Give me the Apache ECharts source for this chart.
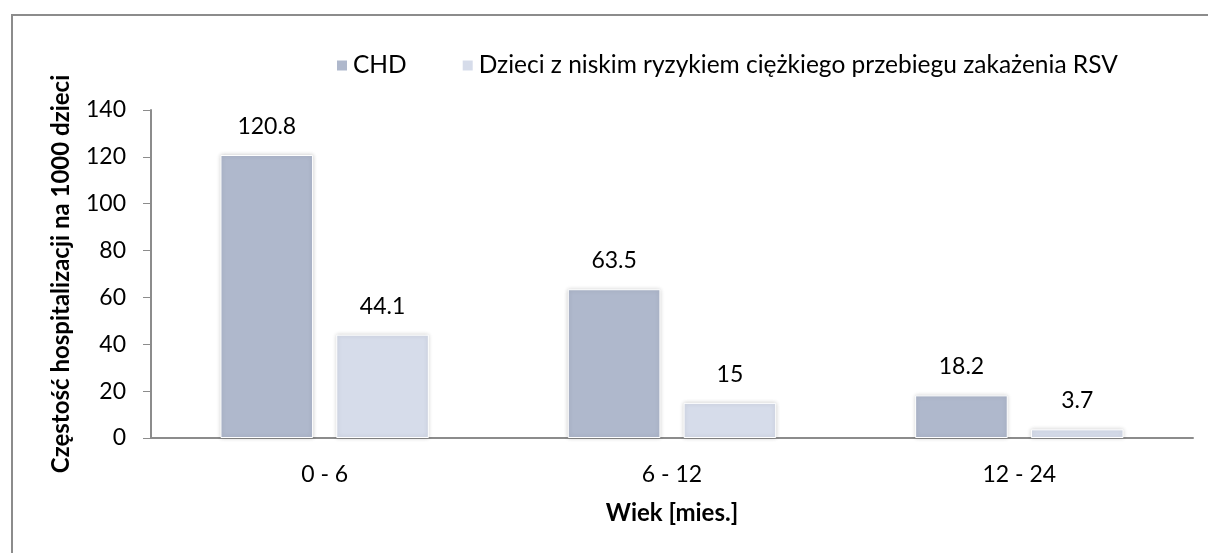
<!DOCTYPE html>
<html>
<head>
<meta charset="utf-8">
<script src="https://cdn.jsdelivr.net/npm/echarts@6/dist/echarts.min.js"></script>
<style>html,body{margin:0;padding:0;background:#fff}#c{width:1208px;height:553px}</style>
</head>
<body>
<div id="c"></div>
<script>
const categories = ['0 - 6', '6 - 12', '12 - 24'];
const seriesNames = ['CHD', 'Dzieci z niskim ryzykiem ciężkiego przebiegu zakażenia RSV'];
const chdValues = [120.8, 63.5, 18.2];
const lowRiskValues = [44.1, 15, 3.7];
const yAxisTitle = 'Częstość hospitalizacji na 1000 dzieci';
const xAxisTitle = 'Wiek [mies.]';

const FONT = 'Lato, "Liberation Sans", sans-serif';
const FS = 23;
const chart = echarts.init(document.getElementById('c'));
const barStyle = (color) => ({
  color: color,
  borderColor: '#ffffff',
  borderWidth: 1,
  shadowColor: 'rgba(0,0,0,0.18)',
  shadowBlur: 4
});
const labelStyle = { show: true, position: 'top', distance: 17, fontSize: FS, color: '#000', fontFamily: FONT };
chart.setOption({
  animation: false,
  backgroundColor: '#fff',
  textStyle: { fontFamily: FONT },
  graphic: [{
    type: 'rect',
    shape: { x: 12, y: 15, width: 1300, height: 700 },
    style: { fill: 'none', stroke: '#8c8c8c', lineWidth: 2 },
    silent: true
  }],
  legend: {
    top: 48,
    left: 330,
    itemWidth: 12,
    itemHeight: 12,
    itemGap: 54,
    icon: 'rect',
    textStyle: { fontSize: 24.5, color: '#000', fontFamily: FONT },
    data: seriesNames
  },
  grid: { left: 151, right: 15, top: 110, bottom: 115 },
  xAxis: {
    type: 'category',
    data: categories,
    axisLine: { lineStyle: { color: '#8c8c8c', width: 2 } },
    axisTick: { show: false },
    axisLabel: { fontSize: FS, color: '#000', margin: 25, fontFamily: FONT },
    name: xAxisTitle,
    nameLocation: 'middle',
    nameGap: 63,
    nameTextStyle: { fontSize: 24, fontWeight: 'bold', color: '#000', fontFamily: FONT }
  },
  yAxis: {
    type: 'value',
    min: 0,
    max: 140,
    interval: 20,
    splitLine: { show: false },
    axisLine: { show: true, lineStyle: { color: '#8c8c8c', width: 2 } },
    axisTick: { show: true, length: 8, lineStyle: { color: '#8c8c8c', width: 1 } },
    axisLabel: { fontSize: FS, color: '#000', margin: 25, fontFamily: FONT },
    name: yAxisTitle,
    nameLocation: 'middle',
    nameGap: 78,
    nameTextStyle: { fontSize: 24, fontWeight: 'bold', color: '#000', fontFamily: FONT }
  },
  series: [
    {
      name: seriesNames[0],
      type: 'bar',
      data: chdValues,
      barGap: '25%',
      barCategoryGap: '40%',
      itemStyle: barStyle('#afb8cc'),
      label: labelStyle
    },
    {
      name: seriesNames[1],
      type: 'bar',
      data: lowRiskValues,
      itemStyle: barStyle('#d6dcea'),
      label: labelStyle
    }
  ]
});
</script>
</body>
</html>
